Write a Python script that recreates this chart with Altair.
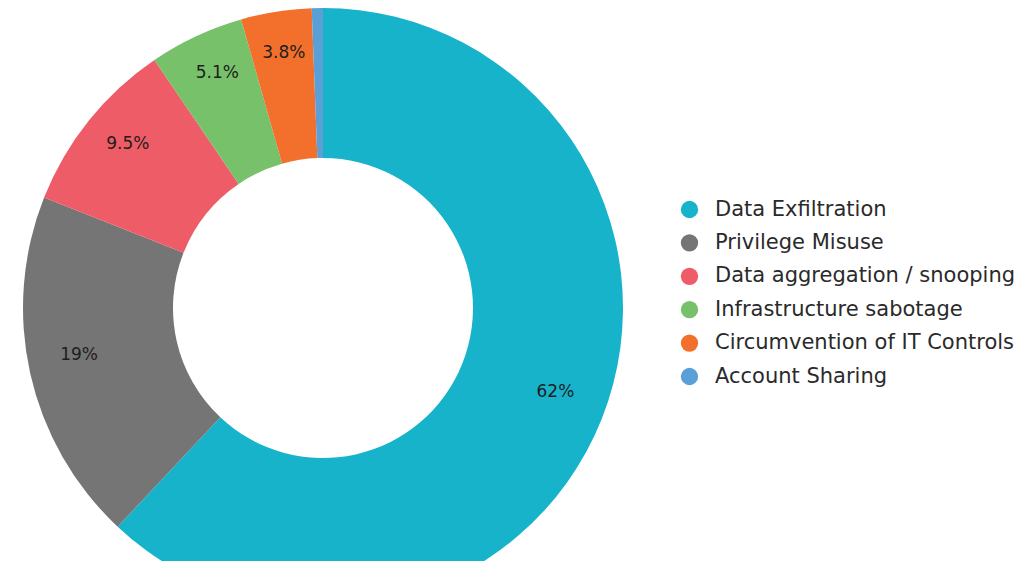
import altair as alt
import pandas as pd

categories = ["Data Exfiltration", "Privilege Misuse", "Data aggregation / snooping",
              "Infrastructure sabotage", "Circumvention of IT Controls", "Account Sharing"]
values = [62.0, 19.0, 9.5, 5.1, 3.8, 0.6]
labels = ["62%", "19%", "9.5%", "5.1%", "3.8%", ""]
colors = ["#17B3CB", "#757575", "#EE5C67", "#78C16B", "#F2702C", "#5A9FD8"]

df = pd.DataFrame({"category": categories, "value": values, "label": labels,
                   "order": list(range(len(categories)))})

cx, cy = 315, 297

base = alt.Chart(df).encode(
    theta=alt.Theta("value:Q", stack=True),
    order=alt.Order("order:Q"),
)

arcs = base.mark_arc(outerRadius=300, innerRadius=150, x=cx, y=cy).encode(
    color=alt.Color(
        "category:N",
        scale=alt.Scale(domain=categories, range=colors),
        sort=categories,
        legend=alt.Legend(
            title=None, orient="none", legendX=671, legendY=188,
            symbolType="circle", symbolSize=300, symbolStrokeWidth=0,
            labelFontSize=21, labelFont="DejaVu Sans",
            labelColor="#2a2a2a", labelLimit=0,
            rowPadding=11.4, labelOffset=15,
        ),
    )
)

text = base.mark_text(radius=250, x=cx, y=cy, dy=-8, fontSize=17, font="DejaVu Sans",
                      color="#1e1e1e").encode(text="label:N")

chart = (arcs + text).properties(
    width=1011, height=553, padding=0,
    autosize=alt.AutoSizeParams(type="fit", contains="padding"),
).configure_view(stroke=None)

chart.save("out.html", embed_options={"renderer": "svg", "actions": False})
